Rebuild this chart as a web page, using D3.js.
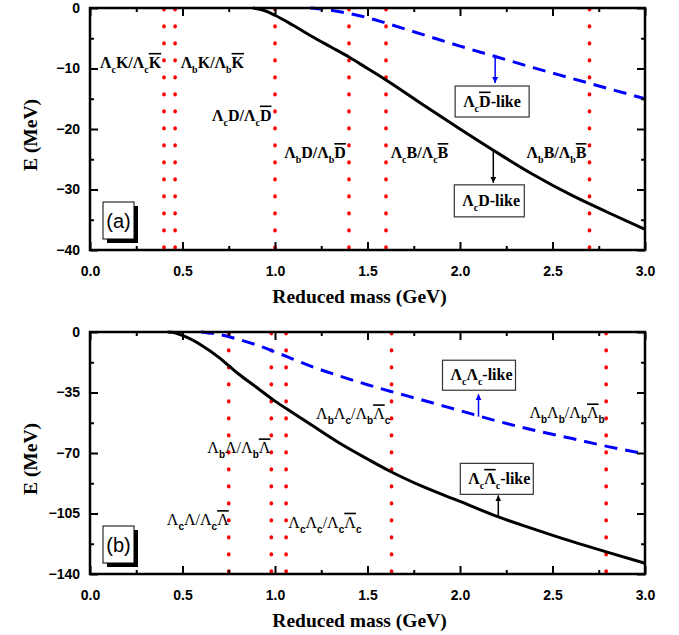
<!DOCTYPE html>
<meta charset="utf-8">
<style>
body { margin: 0; background: #fff; }
.frame { fill: none; stroke: #000; stroke-width: 2.5; }
.axis path { display: none; }
.axis line { stroke: #000; stroke-width: 2; }
.axis text { font-family: Arial, "Liberation Sans", sans-serif; font-weight: bold; font-size: 14px; fill: #000; }
.title { font-family: "Times New Roman", "Liberation Serif", serif; font-weight: bold; font-size: 19.5px; }
.thr { stroke: #ff0000; stroke-width: 3.6; stroke-dasharray: 0.8 16.2; stroke-linecap: round; fill: none; }
.solid { fill: none; stroke: #000; stroke-width: 3; }
.dash { fill: none; stroke: #0000ff; stroke-width: 3; stroke-dasharray: 13 8; }
.lab { font-family: "Times New Roman", "Liberation Serif", serif; font-size: 16px; }
</style>
<body>
<script src="https://cdn.jsdelivr.net/npm/d3@7"></script>
<script>
// x axis (shared)
var xTicks = [0, 0.5, 1, 1.5, 2, 2.5, 3];
var xMinor = [0.25, 0.75, 1.25, 1.75, 2.25, 2.75];

// panel (a)
var aYTicks = [0, -10, -20, -30, -40];
var aYMinor = [-5, -15, -25, -35];
var aThresholds = [0.40, 0.46, 1.00, 1.40, 1.60, 2.70];
var aSolidX = [0.88, 0.95, 1.0, 1.1, 1.2, 1.3, 1.4, 1.5, 1.6, 1.8, 2.0, 2.2, 2.4, 2.6, 2.8, 3.0];
var aSolidE = [0, -0.5, -1.2, -2.9, -4.7, -6.4, -8.1, -10.0, -11.9, -16.0, -20.0, -23.9, -27.6, -30.9, -33.8, -36.6];
var aDashX = [1.19, 1.3, 1.4, 1.5, 1.6, 1.8, 2.0, 2.2, 2.4, 2.6, 2.8, 3.0];
var aDashE = [0, -0.35, -0.9, -1.6, -2.5, -4.4, -6.3, -8.1, -9.9, -11.6, -13.3, -15.0];

// panel (b)
var bYTicks = [0, -35, -70, -105, -140];
var bYMinor = [-17.5, -52.5, -87.5, -122.5];
var bThresholds = [0.75, 0.98, 1.06, 1.63, 2.79];
var bSolidX = [0.42, 0.45, 0.5, 0.6, 0.7, 0.75, 0.8, 0.9, 1.0, 1.1, 1.2, 1.35, 1.5, 1.63, 1.8, 2.0, 2.2, 2.4, 2.6, 2.8, 3.0];
var bSolidE = [0, -0.3, -2.0, -7.5, -15.0, -19.5, -24, -32, -40, -47, -54, -64.4, -73.5, -81, -89.5, -98, -106.7, -114, -121, -127.5, -133.8];
var bDashX = [0.6, 0.7, 0.8, 0.9, 1.0, 1.1, 1.2, 1.35, 1.5, 1.63, 1.8, 2.0, 2.2, 2.4, 2.6, 2.8, 3.0];
var bDashE = [0, -1.5, -4.2, -7.5, -11.5, -15.8, -20, -25.5, -30.5, -34.5, -39.5, -45.5, -51.5, -56.8, -61.5, -66.3, -70.5];

// label pieces: [text, kind]  kind: "" normal, "s" subscript, "o" overline
var aLabels = [
  {x: 0.054, e: -9.9, p: [["Λ",""],["c","s"],["K",""],["/",""],["Λ",""],["c","s"],["K","o"]]},
  {x: 0.49, e: -9.9, p: [["Λ",""],["b","s"],["K",""],["/",""],["Λ",""],["b","s"],["K","o"]]},
  {x: 0.66, e: -18.6, p: [["Λ",""],["c","s"],["D",""],["/",""],["Λ",""],["c","s"],["D","o"]]},
  {x: 1.05, e: -24.8, p: [["Λ",""],["b","s"],["D",""],["/",""],["Λ",""],["b","s"],["D","o"]]},
  {x: 1.625, e: -24.8, p: [["Λ",""],["c","s"],["B",""],["/",""],["Λ",""],["c","s"],["B","o"]]},
  {x: 2.36, e: -24.8, p: [["Λ",""],["b","s"],["B",""],["/",""],["Λ",""],["b","s"],["B","o"]]}
];
var bLabels = [
  {x: 1.222, e: -50.5, p: [["Λ",""],["b","s"],["Λ",""],["c","s"],["/",""],["Λ",""],["b","s"],["Λ","o"],["c","s"]]},
  {x: 2.375, e: -50.0, p: [["Λ",""],["b","s"],["Λ",""],["b","s"],["/",""],["Λ",""],["b","s"],["Λ","o"],["b","s"]]},
  {x: 0.634, e: -70.2, p: [["Λ",""],["b","s"],["Λ",""],["/",""],["Λ",""],["b","s"],["Λ","o"]]},
  {x: 0.415, e: -111.7, p: [["Λ",""],["c","s"],["Λ",""],["/",""],["Λ",""],["c","s"],["Λ","o"]]},
  {x: 1.072, e: -113.2, p: [["Λ",""],["c","s"],["Λ",""],["c","s"],["/",""],["Λ",""],["c","s"],["Λ","o"],["c","s"]]}
];

// arrows + boxes: arrow from (x,e0) to (x,e1); box as pixel offsets from arrow tip
var aArrows = [
  {x: 2.19, e0: -7.9, e1: -12.4, color: "#0000ff", bx: -40, by: 3, bw: 74, bh: 31,
   p: [["Λ",""],["c","s"],["D","o"],["-like",""]]},
  {x: 2.18, e0: -23.5, e1: -28.9, color: "#000", bx: -39, by: 2, bw: 70, bh: 32,
   p: [["Λ",""],["c","s"],["D",""],["-like",""]]}
];
var bArrows = [
  {x: 2.10, e0: -49, e1: -36, color: "#0000ff", bx: -36, by: -34, bw: 73, bh: 30,
   p: [["Λ",""],["c","s"],["Λ",""],["c","s"],["-like",""]]},
  {x: 2.207, e0: -106.9, e1: -94.5, color: "#000", bx: -38, by: -32, bw: 73, bh: 31,
   p: [["Λ",""],["c","s"],["Λ","o"],["c","s"],["-like",""]]}
];

var W = 679, H = 635;
var svg = d3.select("body").append("svg").attr("width", W).attr("height", H);

var defs = svg.append("defs");
[["arrBlue", "#0000ff"], ["arrBlack", "#000"]].forEach(function(m) {
  defs.append("marker").attr("id", m[0])
    .attr("viewBox", "0 0 10 10").attr("refX", 10).attr("refY", 5)
    .attr("markerWidth", 6).attr("markerHeight", 9).attr("markerUnits", "userSpaceOnUse")
    .attr("orient", "auto")
    .append("path").attr("d", "M0,0 L10,5 L0,10 z").attr("fill", m[1]);
});

function richText(g, parts, bold, subFont) {
  var t = g.append("text").attr("class", "lab").style("font-weight", bold ? "bold" : "normal");
  var low = false;
  parts.forEach(function(pt) {
    var ts = t.append("tspan").text(pt[0]);
    if (pt[1] === "s") {
      ts.attr("dy", low ? 0 : 5).style("font-size", "10px");
      if (subFont) ts.style("font-family", subFont).style("font-weight", "bold");
      low = true;
    } else {
      ts.attr("dy", low ? -5 : 0);
      low = false;
      if (pt[1] === "o") ts.style("text-decoration", "overline");
    }
  });
  return t;
}

function panel(top, yDomain, yTicks, yMinor, thr, sX, sE, dX, dE, labels, arrows, tag, labBold, subFont) {
  var left = 90, right = 645, bottom = top + 242;
  var x = d3.scaleLinear().domain([0, 3]).range([left, right]);
  var y = d3.scaleLinear().domain(yDomain).range([top, bottom]);
  var g = svg.append("g");

  // threshold lines
  g.selectAll(".thr").data(thr).enter().append("line")
    .attr("class", "thr")
    .attr("x1", function(d) { return x(d); }).attr("x2", function(d) { return x(d); })
    .attr("y1", top + 1).attr("y2", bottom);

  // curves
  var line = d3.line()
    .x(function(d) { return x(d[0]); })
    .y(function(d) { return y(d[1]); })
    .curve(d3.curveMonotoneX);
  g.append("path").attr("class", "dash").attr("d", line(d3.zip(dX, dE)));
  g.append("path").attr("class", "solid").attr("d", line(d3.zip(sX, sE)));

  // axes, ticks inward on all sides
  g.append("g").attr("class", "axis").attr("transform", "translate(0," + bottom + ")")
    .call(d3.axisBottom(x).tickValues(xTicks).tickSize(-8).tickPadding(16).tickFormat(d3.format(".1f")));
  g.append("g").attr("class", "axis").attr("transform", "translate(0," + bottom + ")")
    .call(d3.axisBottom(x).tickValues(xMinor).tickSize(-4).tickFormat(""));
  g.append("g").attr("class", "axis").attr("transform", "translate(0," + top + ")")
    .call(d3.axisTop(x).tickValues(xTicks).tickSize(-8).tickFormat(""));
  g.append("g").attr("class", "axis").attr("transform", "translate(0," + top + ")")
    .call(d3.axisTop(x).tickValues(xMinor).tickSize(-4).tickFormat(""));
  g.append("g").attr("class", "axis").attr("transform", "translate(" + left + ",0)")
    .call(d3.axisLeft(y).tickValues(yTicks).tickSize(-8).tickPadding(10).tickFormat(d3.format("d")));
  g.append("g").attr("class", "axis").attr("transform", "translate(" + left + ",0)")
    .call(d3.axisLeft(y).tickValues(yMinor).tickSize(-4).tickFormat(""));
  g.append("g").attr("class", "axis").attr("transform", "translate(" + right + ",0)")
    .call(d3.axisRight(y).tickValues(yTicks).tickSize(-8).tickFormat(""));
  g.append("g").attr("class", "axis").attr("transform", "translate(" + right + ",0)")
    .call(d3.axisRight(y).tickValues(yMinor).tickSize(-4).tickFormat(""));

  g.append("rect").attr("class", "frame")
    .attr("x", left).attr("y", top).attr("width", right - left).attr("height", bottom - top);

  // axis titles
  g.append("text").attr("class", "title").attr("text-anchor", "middle")
    .attr("x", (left + right) / 2 - 8).attr("y", bottom + 53).text("Reduced mass (GeV)");
  g.append("text").attr("class", "title").attr("text-anchor", "middle")
    .attr("transform", "translate(37," + ((top + bottom) / 2 + 6) + ") rotate(-90)").text("E (MeV)");

  // state labels
  labels.forEach(function(l) {
    var t = richText(g, l.p, labBold, subFont);
    t.attr("x", x(l.x)).attr("y", y(l.e));
  });

  // arrows and boxed labels
  arrows.forEach(function(a) {
    var tipX = x(a.x), tipY = y(a.e1);
    g.append("line").attr("x1", tipX).attr("x2", tipX).attr("y1", y(a.e0)).attr("y2", tipY)
      .attr("stroke", a.color).attr("stroke-width", 1.5)
      .attr("marker-end", "url(#" + (a.color === "#000" ? "arrBlack" : "arrBlue") + ")");
    g.append("rect").attr("x", tipX + a.bx).attr("y", tipY + a.by)
      .attr("width", a.bw).attr("height", a.bh)
      .attr("fill", "#fff").attr("stroke", "#333").attr("stroke-width", 1.2);
    var t = richText(g, a.p, true, null);
    t.attr("x", tipX + a.bx + 8).attr("y", tipY + a.by + a.bh / 2 + 5);
  });

  // panel tag with shadow
  var tx = 103, ty = bottom - 48;
  g.append("rect").attr("x", tx + 4).attr("y", ty + 4).attr("width", 31).attr("height", 37).attr("fill", "#000");
  g.append("rect").attr("x", tx).attr("y", ty).attr("width", 31).attr("height", 37)
    .attr("fill", "#fff").attr("stroke", "#000").attr("stroke-width", 1);
  g.append("text").attr("x", tx + 15.5).attr("y", ty + 26).attr("text-anchor", "middle")
    .style("font-family", "Arial, 'Liberation Sans', sans-serif").style("font-size", "20px").text(tag);
}

panel(8, [0, -40], aYTicks, aYMinor, aThresholds, aSolidX, aSolidE, aDashX, aDashE, aLabels, aArrows, "(a)", true, null);
panel(332, [0, -140], bYTicks, bYMinor, bThresholds, bSolidX, bSolidE, bDashX, bDashE, bLabels, bArrows, "(b)", false, "Arial, 'Liberation Sans', sans-serif");
</script>
</body>
